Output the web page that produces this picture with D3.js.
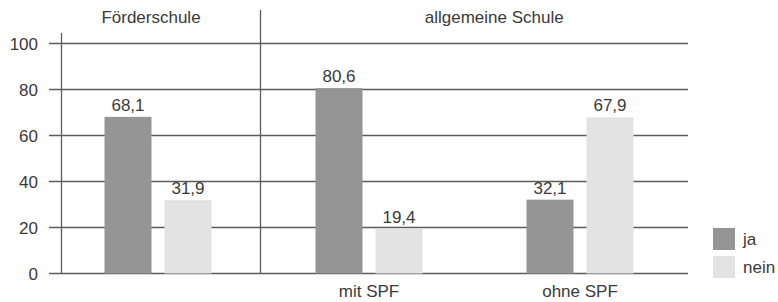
<!DOCTYPE html>
<html>
<head>
<meta charset="utf-8">
<script src="https://cdn.jsdelivr.net/npm/d3@7"></script>
<style>
  body { margin: 0; background: #fff; }
  text { font-family: "Liberation Sans", Arial, sans-serif; fill: #3a3a3a; }
</style>
</head>
<body>
<div class="chart"></div>
<script>
// data
const categories = ["Förderschule", "mit SPF", "ohne SPF"];
const seriesNames = ["ja", "nein"];
const jaValues = [68.1, 80.6, 32.1];
const neinValues = [31.9, 19.4, 67.9];
const yTicks = [0, 20, 40, 60, 80, 100];

const svgWidth = 778;
const svgHeight = 302;

const svg = d3.select(".chart")
  .append("svg")
  .attr("width", svgWidth)
  .attr("height", svgHeight);

const colors = { ja: "#959595", nein: "#e3e3e3" };
const lineColor = "#5c5c5c";
const fontSize = "17px";

const gridLeft = 49, gridRight = 688;

const x = d3.scaleBand()
  .domain(categories)
  .range([52.5, 685.5]);

// ja / nein inside each group: 47px bars, 13px gap
const inner = d3.scaleBand()
  .domain(seriesNames)
  .range([x.bandwidth() / 2 - 53.5, x.bandwidth() / 2 + 53.5])
  .paddingInner(13 / 60);

const y = d3.scaleLinear()
  .domain([0, 100])
  .range([273.5, 43.5]);

// horizontal gridlines
svg.append("g")
  .selectAll("line")
  .data(yTicks)
  .enter()
  .append("line")
  .attr("x1", gridLeft)
  .attr("x2", gridRight)
  .attr("y1", d => y(d))
  .attr("y2", d => y(d))
  .attr("stroke", lineColor)
  .attr("stroke-width", 1.3);

// y tick labels
svg.append("g")
  .selectAll("text")
  .data(yTicks)
  .enter()
  .append("text")
  .attr("x", 38)
  .attr("y", d => y(d))
  .attr("dy", "0.36em")
  .attr("text-anchor", "end")
  .style("font-size", fontSize)
  .text(d => d);

// vertical lines: left axis and group separator
const sepX = x("mit SPF") - 3;
svg.append("line")
  .attr("x1", 61.5).attr("x2", 61.5)
  .attr("y1", 33).attr("y2", y(0))
  .attr("stroke", lineColor).attr("stroke-width", 1.3);
svg.append("line")
  .attr("x1", sepX).attr("x2", sepX)
  .attr("y1", 10).attr("y2", y(0))
  .attr("stroke", lineColor).attr("stroke-width", 1.3);

// bars
const rows = [];
categories.forEach((c, i) => {
  rows.push({ cat: c, s: "ja", v: jaValues[i] });
  rows.push({ cat: c, s: "nein", v: neinValues[i] });
});

const bars = svg.append("g")
  .selectAll("g")
  .data(rows)
  .enter()
  .append("g");

bars.append("rect")
  .attr("x", d => x(d.cat) + inner(d.s))
  .attr("y", d => y(d.v))
  .attr("width", inner.bandwidth())
  .attr("height", d => y(0) - y(d.v))
  .attr("fill", d => colors[d.s]);

bars.append("text")
  .attr("x", d => x(d.cat) + inner(d.s) + inner.bandwidth() / 2)
  .attr("y", d => y(d.v) - 6)
  .attr("text-anchor", "middle")
  .style("font-size", fontSize)
  .text(d => d3.format(".1f")(d.v).replace(".", ","));

// bottom category labels
svg.append("g")
  .selectAll("text")
  .data(categories.slice(1))
  .enter()
  .append("text")
  .attr("x", d => x(d) + x.bandwidth() / 2)
  .attr("y", 297)
  .attr("text-anchor", "middle")
  .style("font-size", fontSize)
  .text(d => d);

// top group labels
svg.append("text")
  .attr("x", (61.5 + sepX) / 2 - 10)
  .attr("y", 23)
  .attr("text-anchor", "middle")
  .style("font-size", fontSize)
  .text("Förderschule");
svg.append("text")
  .attr("x", (sepX + gridRight) / 2 + 20)
  .attr("y", 23)
  .attr("text-anchor", "middle")
  .style("font-size", fontSize)
  .text("allgemeine Schule");

// legend
const legend = svg.append("g")
  .attr("transform", "translate(713, 228)");
const items = legend.selectAll("g")
  .data(seriesNames)
  .enter()
  .append("g")
  .attr("transform", (d, i) => `translate(0, ${i * 28})`);
items.append("rect")
  .attr("width", 22)
  .attr("height", 22)
  .attr("fill", d => colors[d]);
items.append("text")
  .attr("x", 30)
  .attr("y", 11)
  .attr("dy", "0.36em")
  .style("font-size", fontSize)
  .text(d => d);
</script>
</body>
</html>
